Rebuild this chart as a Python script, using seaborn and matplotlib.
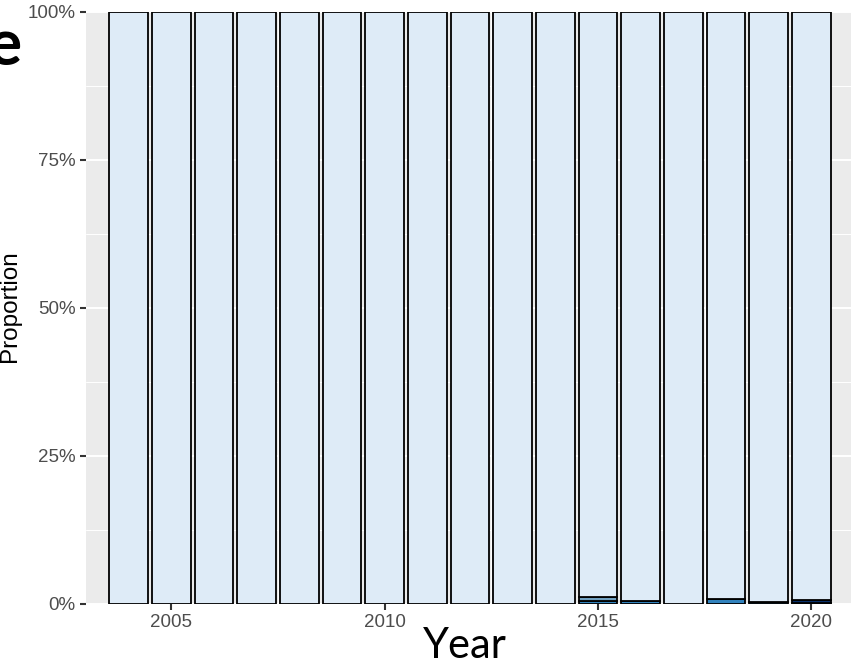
import numpy as np
import pandas as pd
import matplotlib
matplotlib.use("Agg")
import matplotlib.pyplot as plt
import seaborn as sns
from matplotlib.ticker import PercentFormatter, MultipleLocator, FixedLocator

# --- Data (percent of each year) ---
years = list(range(2004, 2021))
share_light = [100, 100, 100, 100, 100, 100, 100, 100, 100, 100, 100,
               98.9, 99.5, 100, 99.1, 99.7, 99.4]
share_navy = [0, 0, 0, 0, 0, 0, 0, 0, 0, 0, 0, 0, 0, 0, 0, 0, 0.45]
share_mid = [0, 0, 0, 0, 0, 0, 0, 0, 0, 0, 0, 0.6, 0, 0, 0, 0, 0]
share_dark = [0, 0, 0, 0, 0, 0, 0, 0, 0, 0, 0, 0.5, 0.5, 0, 0.9, 0.3, 0.15]

groups = ["Light", "Navy", "Mid", "Dark"]
colors = ["#deebf7", "#08306b", "#6f9fc0", "#3182bd"]

df = pd.DataFrame({"Year": years, "Light": share_light, "Navy": share_navy,
                   "Mid": share_mid, "Dark": share_dark})
long_df = df.melt(id_vars="Year", var_name="Group", value_name="Share")

# ggplot-like grey panel
sns.set_style("darkgrid", {"axes.facecolor": "#ebebeb", "grid.color": "white"})
plt.rcParams["font.family"] = ["Liberation Sans", "DejaVu Sans"]

fig = plt.figure(figsize=(8.51, 6.68), dpi=100)
ax = fig.add_axes([86 / 851, 1 - 604 / 668, (854 - 86) / 851, 592 / 668])

sns.histplot(data=long_df, x="Year", hue="Group", weights="Share",
             multiple="fill", discrete=True, shrink=0.9,
             hue_order=groups, palette=dict(zip(groups, colors)),
             edgecolor="black", linewidth=1.3, alpha=1, legend=False, ax=ax)

ax.set_xlim(2003.0, 2021.0)
ax.set_ylim(0, 1)
ax.set_xlabel("")
ax.set_ylabel("")

ax.xaxis.set_major_locator(FixedLocator([2005, 2010, 2015, 2020]))
ax.xaxis.set_minor_locator(FixedLocator([2002.5, 2007.5, 2012.5, 2017.5]))
ax.yaxis.set_major_locator(MultipleLocator(0.25))
ax.yaxis.set_minor_locator(FixedLocator([0.125, 0.375, 0.625, 0.875]))
ax.yaxis.set_major_formatter(PercentFormatter(1.0, decimals=0))

ax.set_axisbelow(True)
ax.grid(which="major", color="white", linewidth=1.4)
ax.grid(which="minor", color="white", linewidth=0.7)
for s in ax.spines.values():
    s.set_visible(False)

ax.tick_params(which="major", bottom=True, left=True, length=4.5, width=1.5,
               color="#333333", labelcolor="#4d4d4d", labelsize=13.5, pad=3)
ax.tick_params(which="minor", bottom=False, left=False, length=0)

# Texts overlaid on the slide
fig.text(10 / 851, 1 - 306 / 668, "Proportion", rotation=90, ha="center",
         va="center", fontsize=17.5, color="black")
fig.text(465 / 851, 1 - 658 / 668, "Year", ha="center", va="baseline",
         fontsize=30, family=["Lato", "DejaVu Sans"], color="black")
fig.text(22 / 851, 1 - 65 / 668, "e", ha="right", va="baseline",
         fontsize=46, fontweight="bold", family=["Lato", "DejaVu Sans"],
         color="black")

fig.savefig("out.png", dpi=100)
